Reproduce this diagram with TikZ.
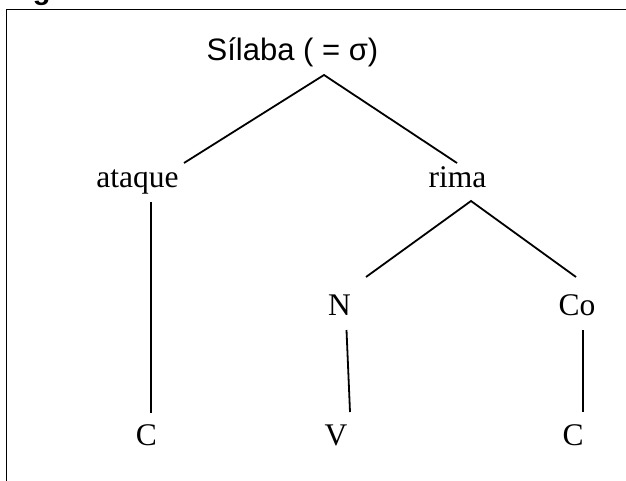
\documentclass[tikz,border=0pt]{standalone}
\usepackage{fontspec}
\setmainfont{Liberation Serif}
\newfontfamily\arialfont{Liberation Sans}
\begin{document}
\begin{tikzpicture}[x=1pt,y=-1pt,
  treeline/.style={line width=1.8pt,black},
  serifnode/.style={inner sep=0pt,anchor=base,font=\fontsize{31.5}{36}\selectfont},
  sansnode/.style={inner sep=0pt,anchor=base,font=\arialfont\fontsize{31}{36}\selectfont}]
\useasboundingbox (0,0) rectangle (626,481);
\clip (0,0) rectangle (626,481);
% title (cut off at top)
\node[inner sep=0pt,anchor=base west,font=\arialfont\bfseries\fontsize{29}{34}\selectfont] (title) at (7,0) {Figura 3 - Estrutura da Sílaba};
% frame
\draw[line width=1.3pt] (6.5,500) -- (6.5,9.5) -- (640,9.5);
% nodes
\node[sansnode] (sil) at (292.5,61) {Sílaba ( = σ)};
\node[serifnode] (ataque) at (137.5,187) {ataque};
\node[serifnode] (rima) at (457.5,187) {rima};
\node[serifnode] (N) at (339.5,315) {N};
\node[serifnode] (Co) at (577,315) {Co};
\node[serifnode] (C1) at (146.5,445) {C};
\node[serifnode] (V) at (336,445) {V};
\node[serifnode] (C2) at (573,445) {C};
% line ends
\coordinate (silb) at (324,75);
\coordinate (atqt) at (184,163);
\coordinate (rimt) at (457,163);
\coordinate (atqb) at (151,202);
\coordinate (c1t) at (151,413);
\coordinate (rimb) at (471,201);
\coordinate (nt) at (366,277);
\coordinate (cot) at (576,277);
\coordinate (nb) at (346.5,330);
\coordinate (vt) at (350,412);
\coordinate (cob) at (583,330);
\coordinate (c2t) at (583,412);
% connectors
\draw[treeline] (atqt) -- (silb) -- (rimt);
\draw[treeline] (atqb) -- (c1t);
\draw[treeline] (nt) -- (rimb) -- (cot);
\draw[treeline] (nb) -- (vt);
\draw[treeline] (cob) -- (c2t);
\end{tikzpicture}
\end{document}
